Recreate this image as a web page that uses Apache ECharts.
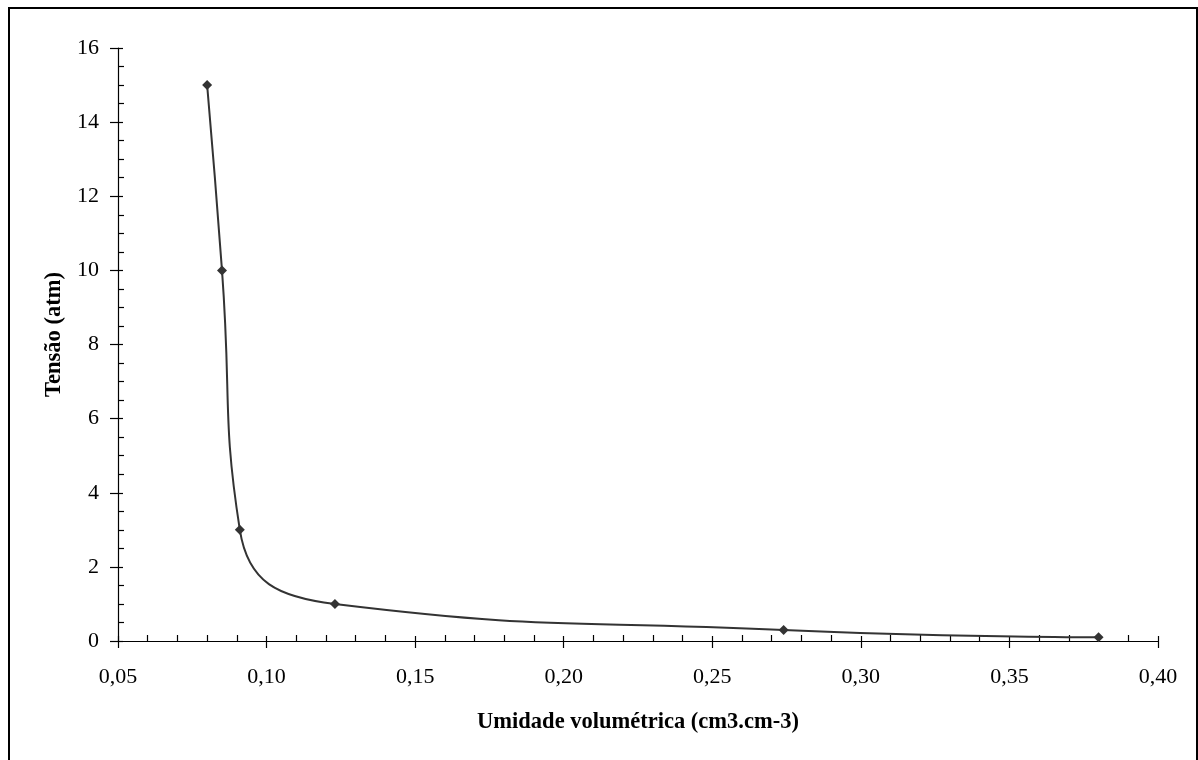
<!DOCTYPE html>
<html><head><meta charset="utf-8">
<script src="https://cdn.jsdelivr.net/npm/echarts@6/dist/echarts.min.js"></script>
<style>html,body{margin:0;padding:0;background:#fff}#c{width:1198px;height:760px}</style>
</head><body><div id="c"></div>
<script>
const xValues = [0.080, 0.085, 0.091, 0.123, 0.274, 0.380];
const yValues = [15, 10, 3, 1, 0.3, 0.1];
const xTitle = 'Umidade volumétrica (cm3.cm-3)';
const yTitle = 'Tensão (atm)';
const font = '"Liberation Serif", "Times New Roman", serif';
const points = xValues.map((x, i) => [x, yValues[i]]);
const chart = echarts.init(document.getElementById('c'));
const lineStyle = {color: '#000', width: 1.2};
chart.setOption({
  animation: false,
  backgroundColor: '#fff',
  grid: {left: 118, right: 40, top: 48, bottom: 119, containLabel: false},
  graphic: [{type: 'rect', shape: {x: 9, y: 8, width: 1188, height: 760}, style: {fill: 'none', stroke: '#000', lineWidth: 2}}],
  xAxis: [{
    type: 'value', min: 0.05, max: 0.40, interval: 0.05,
    name: xTitle, nameLocation: 'middle', nameGap: 70,
    nameTextStyle: {fontFamily: font, fontSize: 22.5, fontWeight: 'bold', color: '#000'},
    axisLine: {lineStyle}, splitLine: {show: false},
    axisTick: {inside: true, length: 5, lineStyle},
    minorTick: {show: true, splitNumber: 5, length: 6, lineStyle},
    axisLabel: {fontFamily: font, fontSize: 22, color: '#000', margin: 25,
      formatter: v => v.toFixed(2).replace('.', ',')}
  }, {
    type: 'value', min: 0.05, max: 0.40, interval: 0.05, position: 'bottom', offset: 0,
    axisLine: {show: false}, splitLine: {show: false},
    axisTick: {inside: false, length: 7, lineStyle}, axisLabel: {show: false}
  }],
  yAxis: [{
    type: 'value', min: 0, max: 16, interval: 2,
    name: yTitle, nameLocation: 'middle', nameGap: 52, nameRotate: 90,
    nameTextStyle: {fontFamily: font, fontSize: 22.5, fontWeight: 'bold', color: '#000', padding: [0, 0, 0, 20]},
    axisLine: {show: true, lineStyle}, splitLine: {show: false},
    axisTick: {show: true, inside: true, length: 5, lineStyle},
    minorTick: {show: true, splitNumber: 4, length: 6, lineStyle},
    axisLabel: {fontFamily: font, fontSize: 22, color: '#000', margin: 19}
  }, {
    type: 'value', min: 0, max: 16, interval: 2, position: 'left', offset: 0,
    axisLine: {show: false}, splitLine: {show: false},
    axisTick: {show: true, inside: false, length: 8, lineStyle}, axisLabel: {show: false}
  }],
  series: [{
    type: 'line', data: points, smooth: 0.5,
    symbol: 'diamond', symbolSize: 10,
    itemStyle: {color: '#333'}, lineStyle: {color: '#333', width: 2}
  }]
});
</script></body></html>
